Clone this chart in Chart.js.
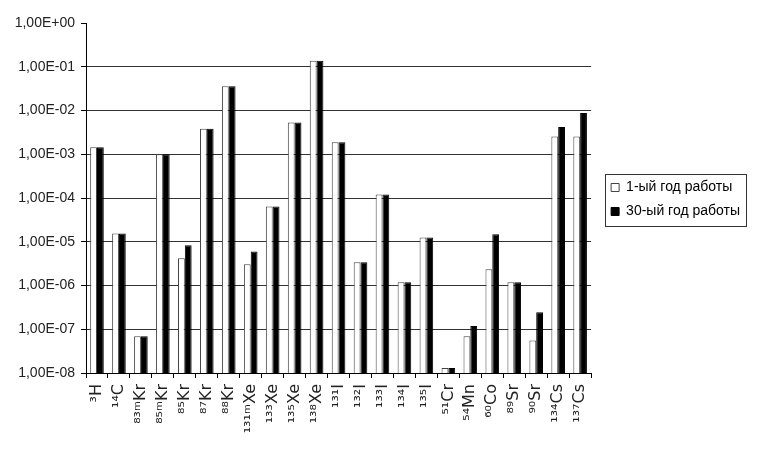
<!DOCTYPE html>
<html>
<head>
<meta charset="utf-8">
<script src="https://cdn.jsdelivr.net/npm/chart.js@4/dist/chart.umd.min.js"></script>
<style>
html,body{margin:0;padding:0;background:#fff;}
canvas{display:block;}
</style>
</head>
<body>
<canvas id="c" width="760" height="454"></canvas>
<script>
const categories = ['³H','¹⁴C','⁸³ᵐKr','⁸⁵ᵐKr','⁸⁵Kr','⁸⁷Kr','⁸⁸Kr','¹³¹ᵐXe','¹³³Xe','¹³⁵Xe','¹³⁸Xe','¹³¹I','¹³²I','¹³³I','¹³⁴I','¹³⁵I','⁵¹Cr','⁵⁴Mn','⁶⁰Co','⁸⁹Sr','⁹⁰Sr','¹³⁴Cs','¹³⁷Cs'];
const seriesNames = ['1-ый год работы', '30-ый год работы'];
const year1 = [1.44e-3, 1.55e-5, 6.9e-8, 1.0e-3, 4.2e-6, 3.85e-3, 3.6e-2, 3.05e-6, 6.4e-5, 5.3e-3, 1.38e-1, 1.87e-3, 3.4e-6, 1.21e-4, 1.18e-6, 1.25e-5, 1.3e-8, 6.9e-8, 2.34e-6, 1.18e-6, 5.5e-8, 2.53e-3, 2.53e-3];
const year30 = [1.44e-3, 1.55e-5, 6.9e-8, 1.0e-3, 8.3e-6, 3.85e-3, 3.6e-2, 5.96e-6, 6.4e-5, 5.3e-3, 1.38e-1, 1.87e-3, 3.4e-6, 1.21e-4, 1.18e-6, 1.25e-5, 1.3e-8, 1.19e-7, 1.48e-5, 1.18e-6, 2.44e-7, 4.2e-3, 8.8e-3];
const yTickValues = [1e-8, 1e-7, 1e-6, 1e-5, 1e-4, 1e-3, 1e-2, 1e-1, 1];
const yTickLabels = ['1,00E-08','1,00E-07','1,00E-06','1,00E-05','1,00E-04','1,00E-03','1,00E-02','1,00E-01','1,00E+00'];

const FONT = "'Liberation Sans', Arial, sans-serif";
const XFONT = "'DejaVu Sans', sans-serif";

const legendFrame = {
  id: 'legendFrame',
  afterLayout(chart) {
    const lg = chart.legend;
    if (lg) { lg.left += 10; lg.right += 10; lg.top -= 39; lg.bottom -= 39; }
  },
  afterDraw(chart) {
    const lg = chart.legend;
    if (!lg || !lg.legendHitBoxes || !lg.legendHitBoxes.length) return;
    const hb = lg.legendHitBoxes;
    const ctx = chart.ctx;
    let l = Infinity, t = Infinity, r = -Infinity, b = -Infinity;
    hb.forEach(h => {
      l = Math.min(l, h.left); t = Math.min(t, h.top);
      r = Math.max(r, h.left + h.width); b = Math.max(b, h.top + h.height);
    });
    ctx.save();
    ctx.strokeStyle = '#333';
    ctx.lineWidth = 1;
    ctx.strokeRect(Math.round(l - 6) + 0.5, Math.round(t - 7) + 0.5, Math.round(r - l + 12), Math.round(b - t + 14));
    ctx.restore();
  }
};

new Chart(document.getElementById('c'), {
  type: 'bar',
  data: {
    labels: categories,
    datasets: [
      { label: seriesNames[0], data: year1, backgroundColor: '#ffffff', borderColor: '#444', borderWidth: 1, borderSkipped: 'bottom' },
      { label: seriesNames[1], data: year30, backgroundColor: '#000000', borderColor: '#000000', borderWidth: 1, borderSkipped: 'bottom' }
    ]
  },
  options: {
    responsive: false,
    animation: false,
    devicePixelRatio: 1,
    datasets: { bar: { categoryPercentage: 0.62, barPercentage: 1.0 } },
    layout: { padding: { left: 0, right: 20, top: 23, bottom: 0 } },
    plugins: {
      tooltip: { enabled: false },
      legend: {
        position: 'right',
        align: 'center',
        labels: {
          boxWidth: 8,
          boxHeight: 8,
          padding: 10,
          color: '#000',
          font: { family: FONT, size: 14 }
        }
      }
    },
    scales: {
      x: {
        type: 'category',
        grid: { display: true, drawOnChartArea: false, offset: true, tickLength: 5, tickColor: '#000' },
        border: { display: true, color: '#000', width: 1 },
        ticks: {
          maxRotation: 90, minRotation: 90, autoSkip: false, padding: 6,
          color: '#222',
          font: { family: XFONT, size: 16 }
        },
        afterFit(scale) { scale.height = 81; }
      },
      y: {
        type: 'logarithmic',
        min: 1e-8,
        max: 1,
        afterBuildTicks(scale) { scale.ticks = yTickValues.map(v => ({ value: v })); },
        grid: {
          color(ctx) {
            const v = ctx.tick && ctx.tick.value;
            if (v === 1) return 'rgba(0,0,0,0)';
            return '#333';
          },
          lineWidth: 1,
          tickLength: 5,
          tickColor: '#000'
        },
        border: { display: true, color: '#000', width: 1 },
        ticks: {
          padding: 6,
          color: '#222',
          font: { family: FONT, size: 14 },
          callback(value) {
            const i = Math.round(Math.log10(value)) + 8;
            return yTickLabels[i] !== undefined ? yTickLabels[i] : '';
          }
        },
        afterFit(scale) { scale.width = 86; }
      }
    }
  },
  plugins: [legendFrame]
});
</script>
</body>
</html>
